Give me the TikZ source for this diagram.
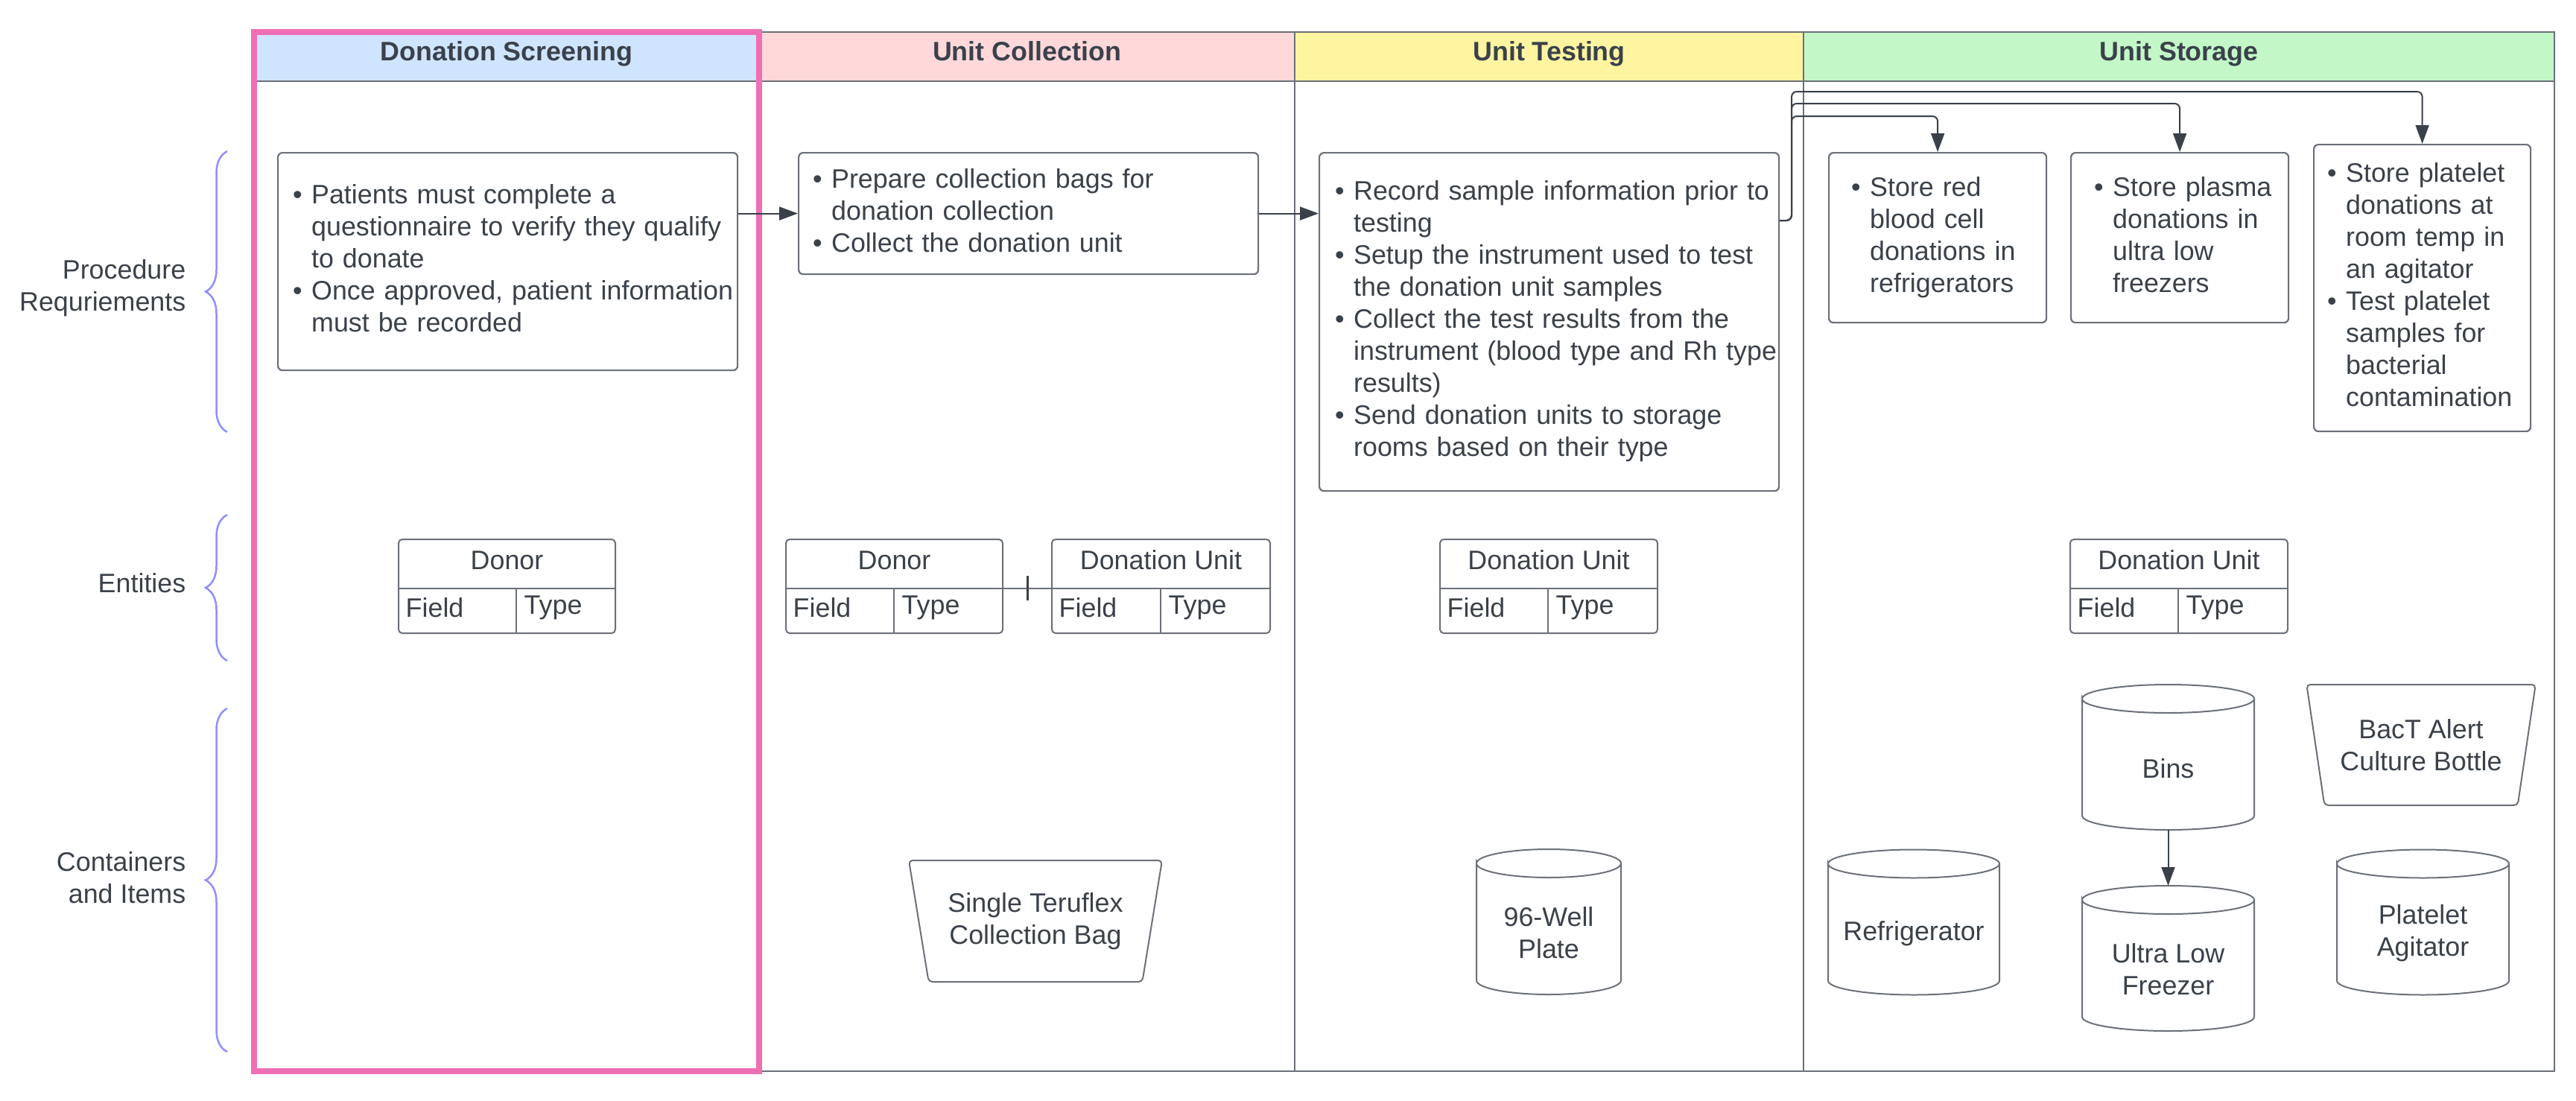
\documentclass[tikz,border=0pt]{standalone}
\usepackage{fontspec}
\setmainfont{Liberation Sans}
\usetikzlibrary{shapes.geometric,arrows.meta,positioning,calc,decorations.pathreplacing}

\definecolor{ink}{HTML}{3A414A}
\definecolor{frame}{HTML}{6B7079}
\definecolor{scrhd}{HTML}{CFE4FF}
\definecolor{colhd}{HTML}{FFD8DA}
\definecolor{tsthd}{HTML}{FFF5A1}
\definecolor{stohd}{HTML}{C3F7C8}
\definecolor{hilite}{HTML}{F06EB4}
\definecolor{bracec}{HTML}{8F8FFF}

\newcommand{\dgfont}{\fontsize{10.2pt}{12.24pt}\selectfont}
\newenvironment{pts}{\begin{tabular}{@{}l@{\hspace{0.125cm}}l@{}}}{\end{tabular}}

% entity table: name, top left, width, split, title
\newcommand{\enttable}[5]{%
  \node[entbox, minimum width=#3] (#1) at (#2) {};
  \draw[entline] ([yshift=-0.66cm]#1.north west) -- ([yshift=-0.66cm]#1.north east);
  \draw[entline] ([xshift=#4,yshift=-0.66cm]#1.north west) -- ([xshift=#4]#1.south west);
  \node[enttext] (#1h) at ([yshift=-0.28cm]#1.north) {#5};
  \node[enttext, anchor=west] (#1f) at ([xshift=0.09cm,yshift=0.34cm]#1.south west) {Field};
  \node[enttext, anchor=west] (#1y) at ([xshift=#4+0.10cm,yshift=0.34cm]#1.south west) {Type};
}

% cylinder: name, centre, width, text
\newcommand{\cylstore}[4]{%
  \node[cylbox, minimum width=#3] (#1) at (#2) {};
  \draw[boxline] ([yshift=-0.19cm]#1.north west) arc[start angle=180, end angle=-180, x radius=#3/2, y radius=0.19cm]
    -- ([yshift=0.19cm]#1.south west) arc[start angle=180, end angle=360, x radius=#3/2, y radius=0.19cm]
    -- ([yshift=-0.19cm]#1.north east);
  \node[cyltext] (#1t) at ([yshift=-0.15cm]#1.center) {#4};
}

\begin{document}
\begin{tikzpicture}[font=\dgfont, text=ink,
  lanehead/.style={draw=frame, line width=0.02cm, minimum height=0.66cm, anchor=north west, outer sep=0pt, inner sep=0pt, text height=0.26cm, text depth=0.14cm, font=\dgfont\bfseries},
  lane/.style={draw=frame, line width=0.02cm, minimum height=13.95cm, anchor=north west, outer sep=0pt},
  procbox/.style={draw=frame, line width=0.022cm, rounded corners=0.06cm, anchor=north west, align=left, inner ysep=0pt},
  entbox/.style={draw=frame, line width=0.02cm, rounded corners=0.05cm, minimum height=1.26cm, anchor=north west, outer sep=0pt},
  entline/.style={draw=frame, line width=0.02cm},
  enttext/.style={inner sep=0pt},
  cylbox/.style={minimum height=1.95cm, inner sep=0pt, outer sep=0pt},
  cyltext/.style={align=center, inner sep=0pt},
  boxline/.style={draw=frame, line width=0.02cm},
  bag/.style={trapezium, trapezium angle=76.5, shape border rotate=180, trapezium stretches=true, draw=frame, line width=0.02cm, rounded corners=0.05cm, align=center},
  flow/.style={draw=ink, line width=0.02cm, -{Triangle[width=0.18cm,length=0.25cm]}},
  brc/.style={draw=bracec, line width=0.025cm, decorate, decoration={brace, amplitude=0.29cm}},
  lbl/.style={align=right, anchor=east, inner sep=0pt},
  ertick/.style={draw=ink, line width=0.03cm}
]
\useasboundingbox (0,0) rectangle (34.58,-14.78);

% lane headers
\node[lanehead, fill=scrhd, minimum width=6.78cm] (hscr) at (3.41,-0.43) {Donation Screening};
\node[lanehead, fill=colhd, minimum width=7.19cm] (hcol) at (10.19,-0.43) {Unit Collection};
\node[lanehead, fill=tsthd, minimum width=6.83cm] (htst) at (17.38,-0.43) {Unit Testing};
\node[lanehead, fill=stohd, minimum width=10.08cm] (hsto) at (24.21,-0.43) {Unit Storage};

% lanes
\node[lane, minimum width=7.19cm] (lcol) at (10.19,-0.43) {};
\node[lane, minimum width=6.83cm] (ltst) at (17.38,-0.43) {};
\node[lane, minimum width=10.08cm] (lsto) at (24.21,-0.43) {};
\node[lane, draw=hilite, line width=0.08cm, minimum width=6.78cm] (lscr) at (3.41,-0.43) {};

% row labels
\draw[brc] (3.05,-5.80) -- (3.05,-2.03);
\draw[brc] (3.05,-8.87) -- (3.05,-6.91);
\draw[brc] (3.05,-14.12) -- (3.05,-9.51);
\node[lbl] (lproc) at (2.50,-3.87) {Procedure\\Requriements};
\node[lbl] (lent) at (2.50,-7.83) {Entities};
\node[lbl] (lcont) at (2.50,-11.78) {Containers\\and Items};

% procedures
\node[procbox, text width=5.77cm, inner xsep=0.20cm, minimum height=2.92cm] (scrbox) at (3.72,-2.04) {\begin{pts}
\textbullet & Patients must complete a\\
 & questionnaire to verify they qualify\\
 & to donate\\
\textbullet & Once approved, patient information\\
 & must be recorded
\end{pts}};
\node[procbox, text width=5.79cm, inner xsep=0.19cm, minimum height=1.63cm] (colbox) at (10.71,-2.04) {\begin{pts}
\textbullet & Prepare collection bags for\\
 & donation collection\\
\textbullet & Collect the donation unit
\end{pts}};
\node[procbox, text width=5.75cm, inner xsep=0.21cm, minimum height=4.54cm] (tstbox) at (17.70,-2.04) {\begin{pts}
\textbullet & Record sample information prior to\\
 & testing\\
\textbullet & Setup the instrument used to test\\
 & the donation unit samples\\
\textbullet & Collect the test results from the\\
 & instrument (blood type and Rh type\\
 & results)\\
\textbullet & Send donation units to storage\\
 & rooms based on their type
\end{pts}};
\node[procbox, text width=2.32cm, inner xsep=0.30cm, minimum height=2.28cm] (rbcbox) at (24.54,-2.04) {\begin{pts}
\textbullet & Store red\\
 & blood cell\\
 & donations in\\
 & refrigerators
\end{pts}};
\node[procbox, text width=2.30cm, inner xsep=0.31cm, minimum height=2.28cm] (plsbox) at (27.79,-2.04) {\begin{pts}
\textbullet & Store plasma\\
 & donations in\\
 & ultra low\\
 & freezers
\end{pts}};
\node[procbox, text width=2.55cm, inner xsep=0.18cm, minimum height=3.85cm] (pltbox) at (31.05,-1.93) {\begin{pts}
\textbullet & Store platelet\\
 & donations at\\
 & room temp in\\
 & an agitator\\
\textbullet & Test platelet\\
 & samples for\\
 & bacterial\\
 & contamination
\end{pts}};

\draw[flow] (scrbox.east |- colbox.west) -- (colbox.west);
\draw[flow] (colbox.east) -- (colbox.east -| tstbox.west);
\coordinate (split) at (24.05,-2.96);
\draw[flow, rounded corners=0.07cm] (tstbox.east |- split) -- (split) |- ([yshift=0.48cm]rbcbox.north) -- (rbcbox.north);
\draw[flow, rounded corners=0.07cm] (tstbox.east |- split) -- (split) |- ([yshift=0.65cm]plsbox.north) -- (plsbox.north);
\draw[flow, rounded corners=0.07cm] (tstbox.east |- split) -- (split) |- ([yshift=0.70cm]pltbox.north) -- (pltbox.north);

% entities
\enttable{dnrA}{5.35,-7.24}{2.91cm}{1.58cm}{Donor}
\enttable{dnrB}{10.55,-7.24}{2.91cm}{1.45cm}{Donor}
\enttable{dudB}{14.12,-7.24}{2.93cm}{1.46cm}{Donation Unit}
\enttable{dudC}{19.33,-7.24}{2.92cm}{1.45cm}{Donation Unit}
\enttable{dudD}{27.79,-7.24}{2.92cm}{1.45cm}{Donation Unit}
\draw[entline] ([yshift=-0.66cm]dnrB.north east) -- coordinate[pos=0.5] (erm) ([yshift=-0.66cm]dudB.north west);
\draw[ertick] ([yshift=0.17cm]erm) -- ([yshift=-0.16cm]erm);

% containers and items
\node[bag, minimum width=3.42cm, minimum height=1.63cm] (tbag) at (13.90,-12.365) {Single Teruflex\\Collection Bag};
\node[bag, minimum width=3.08cm, minimum height=1.62cm] (bact) at (32.50,-10.00) {BacT Alert\\Culture Bottle};
\cylstore{wpl}{20.79,-12.375}{1.94cm}{96-Well\\Plate}
\cylstore{bins}{29.105,-10.165}{2.31cm}{Bins}
\cylstore{ulf}{29.105,-12.865}{2.31cm}{Ultra Low\\Freezer}
\cylstore{rfg}{25.69,-12.38}{2.30cm}{Refrigerator}
\cylstore{pag}{32.525,-12.38}{2.31cm}{Platelet\\Agitator}
\draw[flow] (bins) -- (ulf);
\end{tikzpicture}
\end{document}
